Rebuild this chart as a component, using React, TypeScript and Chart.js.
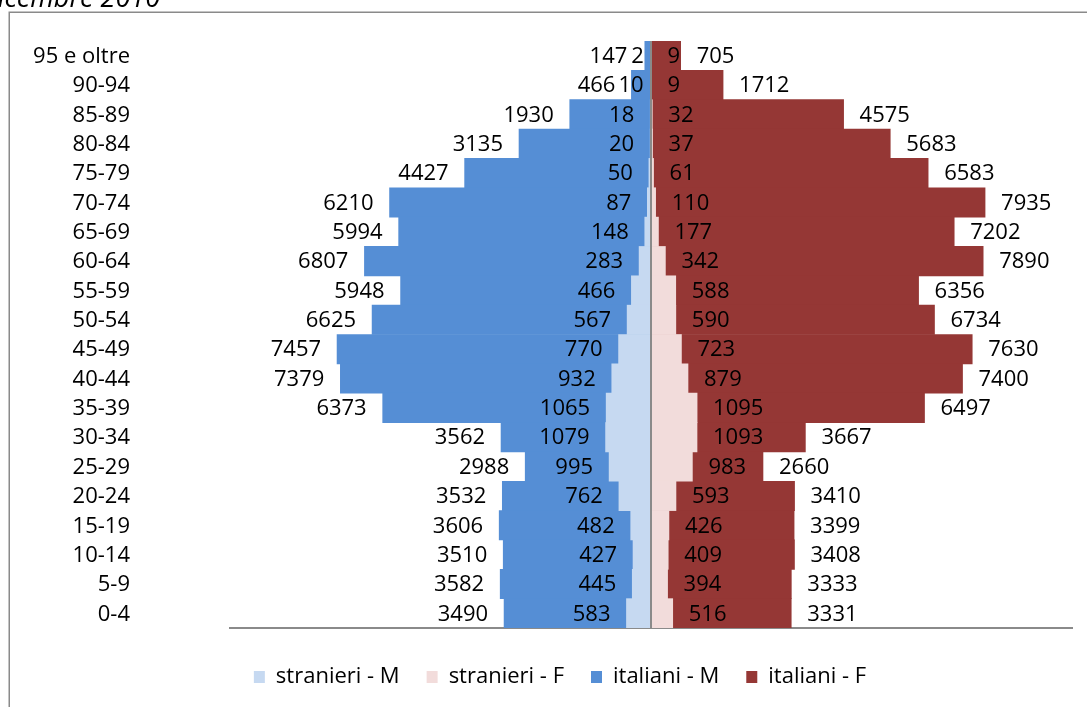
import React, { useEffect, useRef } from "react";
import { Chart, registerables } from "chart.js";

Chart.register(...registerables);

const ageGroups = [
  "95 e oltre", "90-94", "85-89", "80-84", "75-79", "70-74", "65-69", "60-64",
  "55-59", "50-54", "45-49", "40-44", "35-39", "30-34", "25-29", "20-24",
  "15-19", "10-14", "5-9", "0-4",
];

const stranieriM = [2, 10, 18, 20, 50, 87, 148, 283, 466, 567, 770, 932, 1065, 1079, 995, 762, 482, 427, 445, 583];
const stranieriF = [9, 9, 32, 37, 61, 110, 177, 342, 588, 590, 723, 879, 1095, 1093, 983, 593, 426, 409, 394, 516];
const italianiM = [147, 466, 1930, 3135, 4427, 6210, 5994, 6807, 5948, 6625, 7457, 7379, 6373, 3562, 2988, 3532, 3606, 3510, 3582, 3490];
const italianiF = [705, 1712, 4575, 5683, 6583, 7935, 7202, 7890, 6356, 6734, 7630, 7400, 6497, 3667, 2660, 3410, 3399, 3408, 3333, 3331];

const seriesNames = ["stranieri - M", "stranieri - F", "italiani - M", "italiani - F"];
const titleText = "Popolazione residente per età e cittadinanza al 31 dicembre 2010";

const FONT = '"Open Sans", "DejaVu Sans", sans-serif';
const GRAY = "#8a8a8a";
const PAD = 16;

const decorPlugin = {
  id: "decor",
  beforeDraw(chart: any) {
    const ctx = chart.ctx;
    ctx.save();
    ctx.fillStyle = "#ffffff";
    ctx.fillRect(0, 0, chart.width, chart.height);
    ctx.strokeStyle = GRAY;
    ctx.lineWidth = 1.5;
    ctx.strokeRect(9.25, 12.25, 3000, 3000);
    ctx.fillStyle = "#000";
    ctx.font = "italic 27px " + FONT;
    ctx.textAlign = "right";
    ctx.textBaseline = "alphabetic";
    ctx.fillText(titleText, 160, 7);
    ctx.restore();
  },
  afterDatasetsDraw(chart: any) {
    const ctx = chart.ctx;
    const xs = chart.scales.x;
    const ys = chart.scales.y;
    const area = chart.chartArea;
    ctx.save();
    // vertical category axis at zero
    const x0 = xs.getPixelForValue(0);
    ctx.strokeStyle = GRAY;
    ctx.lineWidth = 2;
    ctx.beginPath();
    ctx.moveTo(x0, area.top);
    ctx.lineTo(x0, area.bottom);
    ctx.stroke();
    ctx.fillStyle = "#000";
    ctx.font = "22px " + FONT;
    ctx.textBaseline = "middle";
    // category labels (axis labels placed low, at the left)
    ctx.textAlign = "right";
    chart.data.labels.forEach((lab: string, i: number) => {
      ctx.fillText(lab, area.left - 100, ys.getPixelForValue(i) + 1);
    });
    // data labels (outside end), with a simple overlap resolution on each side
    const metas = [0, 1, 2, 3].map((d) => chart.getDatasetMeta(d));
    const ds = chart.data.datasets;
    const n = chart.data.labels.length;
    for (let i = 0; i < n; i++) {
      // male side: inner = dataset 0, outer = dataset 2 (values negative)
      const sides = [
        { inner: 0, outer: 2, dir: -1 },
        { inner: 1, outer: 3, dir: 1 },
      ];
      sides.forEach(({ inner, outer, dir }) => {
        const bi = metas[inner].data[i];
        const bo = metas[outer].data[i];
        const ti = String(Math.abs(ds[inner].data[i]));
        const to = String(Math.abs(ds[outer].data[i]));
        const wi = ctx.measureText(ti).width;
        let ei = bi.x + dir * PAD; // inner edge of inner label
        let eo = bo.x + dir * PAD; // inner edge of outer label
        // far edge of inner label
        const farI = () => ei + dir * wi;
        if (dir < 0 ? farI() < eo + 3 : farI() > eo - 3) {
          ei = bi.x + dir * 7;
          if (dir < 0 ? farI() < eo + 3 : farI() > eo - 3) {
            eo = farI() + dir * 4;
          }
        }
        ctx.textAlign = dir < 0 ? "right" : "left";
        ctx.fillText(ti, ei, bi.y + 1);
        ctx.fillText(to, eo, bo.y + 1);
      });
    }
    ctx.restore();
  },
};

export default function App() {
  const ref = useRef<HTMLCanvasElement | null>(null);

  useEffect(() => {
    if (!ref.current) return;
    Chart.defaults.font.family = FONT;
    const chart = new Chart(ref.current, {
      type: "bar",
      data: {
        labels: ageGroups,
        datasets: [
          { label: seriesNames[0], data: stranieriM.map((v) => -v), backgroundColor: "#c6d9f1", grouped: false },
          { label: seriesNames[1], data: stranieriF, backgroundColor: "#f2dcdb", grouped: false },
          { label: seriesNames[2], data: italianiM.map((v) => -v), backgroundColor: "#558ed5", grouped: false },
          { label: seriesNames[3], data: italianiF, backgroundColor: "#953735", grouped: false },
        ] as any,
      },
      options: {
        indexAxis: "y",
        animation: false,
        responsive: false,
        events: [],
        layout: { autoPadding: false, padding: { left: 48, right: 48, top: 41, bottom: 9 } },
        datasets: { bar: { barPercentage: 1, categoryPercentage: 1, borderWidth: 0 } } as any,
        scales: {
          x: {
            type: "linear",
            min: -10000,
            max: 10000,
            ticks: { display: false },
            grid: { display: false },
            border: { display: true, color: GRAY, width: 2 },
            afterFit: (s: any) => {
              s.height = 11;
            },
          },
          y: {
            type: "category",
            grid: { display: false },
            border: { display: false },
            ticks: { display: false },
            afterFit: (s: any) => {
              s.width = 182;
            },
          },
        },
        plugins: {
          tooltip: { enabled: false },
          title: { display: false },
          legend: {
            display: true,
            position: "bottom",
            labels: {
              color: "#000",
              font: { size: 22, family: FONT },
              boxWidth: 11,
              boxHeight: 12,
              padding: 27,
            },
          },
        },
      } as any,
      plugins: [decorPlugin],
    });
    return () => chart.destroy();
  }, []);

  return (
    <div style={{ position: "fixed", left: 0, top: 0, width: 1087, height: 707, overflow: "hidden", background: "#fff" }}>
      <canvas ref={ref} width={1120} height={707} style={{ display: "block" }} />
    </div>
  );
}
